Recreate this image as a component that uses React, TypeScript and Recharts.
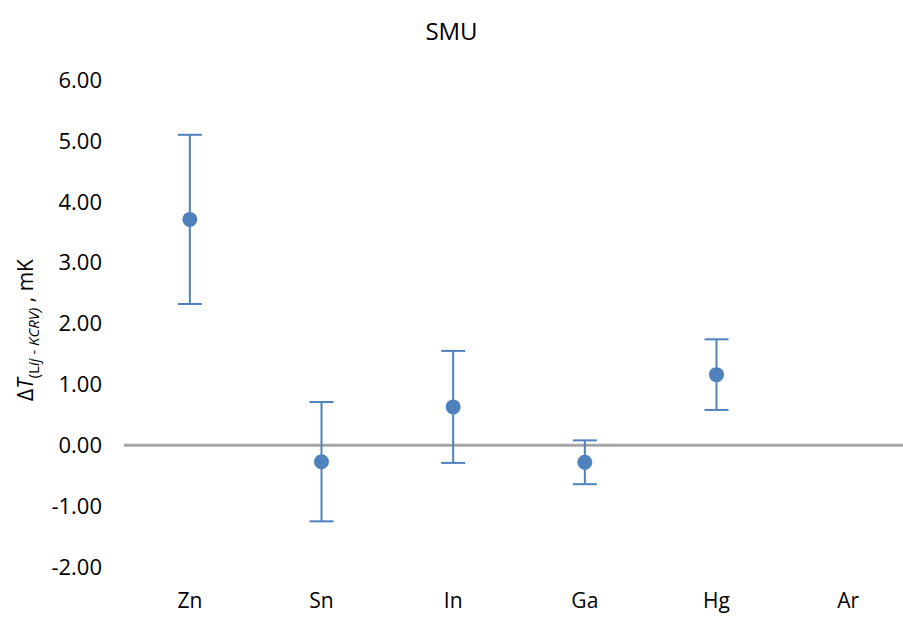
import { ComposedChart, Scatter, ErrorBar, XAxis, YAxis, ReferenceLine } from 'recharts'

const categories = ['Zn', 'Sn', 'In', 'Ga', 'Hg', 'Ar']
const values: (number | null)[] = [3.71, -0.27, 0.63, -0.28, 1.16, null]
const errors: (number | null)[] = [1.39, 0.98, 0.92, 0.36, 0.58, null]
const yTicks = [-2, -1, 0, 1, 2, 3, 4, 5, 6]

const data = categories.map((name, i) => ({ name, value: values[i], err: errors[i] }))

const FONT = '"Open Sans", "Noto Sans", sans-serif'
const BLUE = '#4F81BD'

function Dot(props: any) {
  const { cx, cy, payload } = props
  if (payload == null || payload.value == null || !isFinite(cx) || !isFinite(cy)) return null
  return <circle cx={cx} cy={cy} r={7.5} fill={BLUE} />
}

export default function App() {
  return (
    <div style={{ position: 'fixed', left: 0, top: 0, width: 903, height: 617, overflow: 'hidden', background: '#fff', fontFamily: FONT }}>
      <div style={{ position: 'absolute', left: 0, width: 903, top: 14, textAlign: 'center', fontSize: 24, color: '#000' }}>
        SMU
      </div>
      <ComposedChart width={920} height={617} data={data} margin={{ top: 80, right: 6, left: 64, bottom: 0 }}>
        <XAxis
          dataKey="name"
          type="category"
          scale="band"
          tick={{ fontSize: 21, fill: '#000', fontFamily: FONT }}
          tickLine={false}
          axisLine={false}
          tickSize={0}
          tickMargin={26}
          height={50}
        />
        <YAxis
          type="number"
          domain={[-2, 6]}
          ticks={yTicks}
          tickFormatter={(v: number) => v.toFixed(2)}
          tick={{ fontSize: 22, fill: '#000', fontFamily: FONT }}
          tickLine={false}
          axisLine={false}
          tickSize={0}
          tickMargin={22}
          width={60}
          label={{
            content: () => (
              <text transform="translate(33,330) rotate(-90)" textAnchor="middle" fontFamily={FONT} fontSize={21} fill="#000">
                <tspan>Δ</tspan>
                <tspan fontStyle="italic">T</tspan>
                <tspan fontSize={15} dy={6}>(L</tspan>
                <tspan fontSize={15} fontStyle="italic">ij - KCRV)</tspan>
                <tspan dy={-6}> ,  mK</tspan>
              </text>
            ),
          }}
        />
        <ReferenceLine y={0} stroke="#A6A6A6" strokeWidth={3} />
        <Scatter dataKey="value" fill={BLUE} shape={Dot} isAnimationActive={false}>
          <ErrorBar dataKey="err" direction="y" width={12} stroke={BLUE} strokeWidth={2} isAnimationActive={false} />
        </Scatter>
      </ComposedChart>
    </div>
  )
}
